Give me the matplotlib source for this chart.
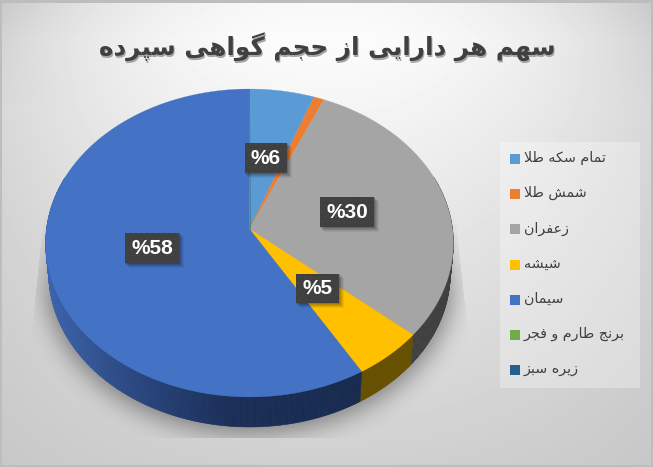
import numpy as np
import matplotlib
matplotlib.use("Agg")
import matplotlib.pyplot as plt
from matplotlib.patches import Polygon, Rectangle
from matplotlib.path import Path

title = "سهم هر دارایی از حجم گواهی سپرده"
categories = ["تمام سکه طلا", "شمش طلا", "زعفران", "شیشه", "سیمان", "برنج طارم و فجر", "زیره سبز"]
values = [5.6, 0.9, 29.8, 5.2, 58.5, 0.0, 0.0]
data_labels = ["%6", None, "%30", "%5", "%58", None, None]
colors = ["#5b9bd5", "#ed7d31", "#a5a5a5", "#ffc000", "#4472c4", "#70ad47", "#255e91"]
side_colors = ["#2f5f8c", "#9a4f1c", "#404040", "#665000", None, "#4a7030", "#173a5a"]
label_boxes = [(245, 143, 42, 30), None, (320, 197, 54, 30), (296, 274, 43, 29), (125, 233, 54, 30), None, None]

FORMS = {
 'ا': (0xFE8D, 0xFE8E), 'ب': (0xFE8F, 0xFE90, 0xFE91, 0xFE92), 'پ': (0xFB56, 0xFB57, 0xFB58, 0xFB59),
 'ت': (0xFE95, 0xFE96, 0xFE97, 0xFE98), 'ج': (0xFE9D, 0xFE9E, 0xFE9F, 0xFEA0), 'ح': (0xFEA1, 0xFEA2, 0xFEA3, 0xFEA4),
 'د': (0xFEA9, 0xFEAA), 'ر': (0xFEAD, 0xFEAE), 'ز': (0xFEAF, 0xFEB0), 'س': (0xFEB1, 0xFEB2, 0xFEB3, 0xFEB4),
 'ش': (0xFEB5, 0xFEB6, 0xFEB7, 0xFEB8), 'ط': (0xFEC1, 0xFEC2, 0xFEC3, 0xFEC4), 'ع': (0xFEC9, 0xFECA, 0xFECB, 0xFECC),
 'ف': (0xFED1, 0xFED2, 0xFED3, 0xFED4), 'ک': (0xFB8E, 0xFB8F, 0xFB90, 0xFB91), 'گ': (0xFB92, 0xFB93, 0xFB94, 0xFB95),
 'ل': (0xFEDD, 0xFEDE, 0xFEDF, 0xFEE0), 'م': (0xFEE1, 0xFEE2, 0xFEE3, 0xFEE4), 'ن': (0xFEE5, 0xFEE6, 0xFEE7, 0xFEE8),
 'ه': (0xFEE9, 0xFEEA, 0xFEEB, 0xFEEC), 'و': (0xFEED, 0xFEEE), 'ی': (0xFBFC, 0xFBFD, 0xFBFE, 0xFBFF),
}

def shape(s):
    out, i, n = [], 0, len(s)
    while i < n:
        c = s[i]
        if c not in FORMS:
            out.append(c); i += 1; continue
        prev_joins = i > 0 and s[i-1] in FORMS and len(FORMS[s[i-1]]) == 4
        if c == 'ل' and i + 1 < n and s[i+1] == 'ا':
            out.append(chr(0xFEFC if prev_joins else 0xFEFB)); i += 2; continue
        f = FORMS[c]
        next_joins = i + 1 < n and s[i+1] in FORMS and len(f) == 4
        if prev_joins and next_joins: k = 3
        elif prev_joins: k = 1
        elif next_joins: k = 2
        else: k = 0
        out.append(chr(f[k])); i += 1
    return ''.join(reversed(out))

W, H = 653, 467
fig = plt.figure(figsize=(W / 100, H / 100), dpi=100)
ax = fig.add_axes([0, 0, 1, 1])

# background
yy, xx = np.mgrid[0:H, 0:W] + 0.5
ux = np.abs(xx - 326) / 326
cx_term = (35 * (1 - yy / H) + 8 * (yy / H)) * ux ** 2
cy_term = 44 * np.abs(yy - 40) / 420
corner = 13 * np.clip(1 - yy / 110, 0, 1) * ux ** 4
bg = np.clip(252 - cx_term - cy_term - corner, 0, 255) / 255
ax.imshow(bg, cmap="gray", vmin=0, vmax=1, extent=(0, W, H, 0), aspect="auto", zorder=0, interpolation="bilinear")
for r in [(0, 0, W, 2.5), (0, H - 2.5, W, 2.5), (0, 0, 2, H), (W - 2, 0, 2, H)]:
    ax.add_patch(Rectangle(r[:2], r[2], r[3], fc="#bdbdbd", ec="none", zorder=1))

CX, CY, A, B, K = 249.5, 229.0, 203.0, 152.7, 0.0909
DEPTH = 30.0

def project(theta, shrink=1.0, dy=0.0):
    u, v = np.sin(theta), -np.cos(theta)
    w = 1 - K * v
    return CX + shrink * A * u / w, CY + B * v / w + dy

def blur(a, sigma):
    r = int(3 * sigma)
    g = np.exp(-0.5 * (np.arange(-r, r + 1) / sigma) ** 2)
    g /= g.sum()
    a = np.apply_along_axis(lambda m: np.convolve(m, g, mode="same"), 0, a)
    return np.apply_along_axis(lambda m: np.convolve(m, g, mode="same"), 1, a)

# soft shadow beneath the pie
t = np.linspace(0, 2 * np.pi, 721)
sx, sy = project(t, 1.0, DEPTH + 6)
inside = Path(np.c_[sx, sy]).contains_points(np.c_[xx.ravel(), yy.ravel()]).reshape(xx.shape).astype(float)
shadow = blur(inside, 12)
xl = 46 - 14 * np.clip((yy - 195) / 135, 0, 1)
xr = 453 + 15 * np.clip((yy - 195) / 135, 0, 1)
shadow *= (xx > xl) * (xx < xr) * (yy < 438)
shadow *= np.clip((yy - 190) / 110, 0, 1)
rgba = np.zeros((H, W, 4))
rgba[..., 3] = shadow * 0.42
ax.imshow(rgba, extent=(0, W, H, 0), aspect="auto", zorder=2)

fractions = np.array(values) / sum(values)
edges = 2 * np.pi * np.concatenate([[0], np.cumsum(fractions)])

def blue_side(x):
    stops = np.array([46, 120, 230, 360], float)
    rgb = np.array([[0x3c, 0x64, 0xad], [0x2c, 0x4b, 0x86], [0x1a, 0x2e, 0x57], [0x17, 0x2b, 0x50]]) / 255
    return [np.interp(x, stops, rgb[:, j]) for j in range(3)]

# side wall, then top face
for i, col in enumerate(colors):
    if values[i] <= 0:
        continue
    ths = np.linspace(edges[i], edges[i + 1], max(2, int(values[i] * 6)))
    for t0, t1 in zip(ths[:-1], ths[1:]):
        if np.cos((t0 + t1) / 2) > 0.35:
            continue
        tt = np.linspace(t0, t1, 4)
        x0, y0 = project(tt)
        x1, y1 = project(tt[::-1], 0.985, DEPTH)
        fc = side_colors[i] or blue_side((x0[0] + x0[-1]) / 2)
        ax.add_patch(Polygon(np.c_[np.r_[x0, x1], np.r_[y0, y1]], closed=True, fc=fc, ec=fc, lw=0.4, zorder=3))

for i, col in enumerate(colors):
    tt = np.linspace(edges[i], edges[i + 1], max(2, int(values[i] * 8)))
    x, y = project(tt)
    pts = np.c_[np.r_[CX, x], np.r_[CY, y]]
    if values[i] > 0:
        ax.add_patch(Polygon(pts, closed=True, fc=col, ec=col, lw=0.2, zorder=4))
    else:
        x0, y0 = project(np.array([edges[i]]))
        ax.plot([CX, x0[0]], [CY, y0[0]], color=col, lw=0.5, alpha=0.6, zorder=4.5)

# data labels
plt.rcParams["hatch.linewidth"] = 0.4
for lab, box in zip(data_labels, label_boxes):
    if lab is None:
        continue
    bx, by, bw, bh = box
    for off, al in zip([6, 5, 4, 3, 2], [0.05, 0.07, 0.09, 0.1, 0.12]):
        ax.add_patch(Rectangle((bx + off - 2, by + off - 2), bw + 1, bh + 1, fc="black", ec="none", alpha=al, zorder=5))
    ax.add_patch(Rectangle((bx, by), bw, bh, fc="#404040", ec="#4a4a4a", lw=0, hatch="...", zorder=6))
    ax.text(bx + bw / 2, by + bh / 2 + 0.5, lab, color="white", fontsize=15, fontweight="bold",
            family="Liberation Sans", ha="center", va="center", zorder=7)

# title
for dx, dy, c, z in [(1.2, 1.4, "#a6a6a6", 8), (0, 0, "#404040", 9)]:
    ax.text(327 + dx, 47 + dy, shape(title), fontsize=17.7, fontweight="bold", family="DejaVu Sans",
            color=c, ha="center", va="center", zorder=z)

# legend
ax.add_patch(Rectangle((500, 142), 140, 245.5, fc="white", ec="none", alpha=0.3, zorder=3))
for i, (name, col) in enumerate(zip(categories, colors)):
    y = 159 + i * 35.2
    ax.add_patch(Rectangle((510, y - 5), 10, 10, fc=col, ec="none", zorder=5))
    ax.text(524, y - 1, shape(name), fontsize=10.3, color="#404040", family="DejaVu Sans",
            ha="left", va="center", zorder=5)

ax.set_xlim(0, W)
ax.set_ylim(H, 0)
ax.axis("off")
fig.savefig("out.png", dpi=100)
